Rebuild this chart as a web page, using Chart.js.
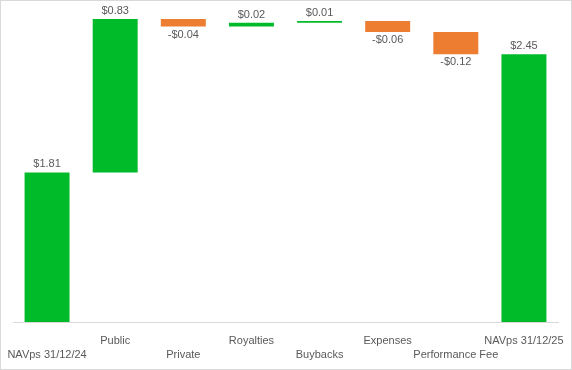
<!DOCTYPE html>
<html>
<head>
<meta charset="utf-8">
<script src="https://cdn.jsdelivr.net/npm/chart.js@4.4.1/dist/chart.umd.min.js"></script>
<style>
    html, body { margin: 0; padding: 0; background: #fff; }
    #wrap {
        width: 572px;
        height: 370px;
        box-sizing: border-box;
        border: 1px solid #d9d9d9;
        position: relative;
    }
    #wrap canvas { display: block; }
</style>
</head>
<body>
<div id="wrap"><canvas id="waterfall" width="570" height="368"></canvas></div>
<script>
// データ定義
const categories = ['NAVps 31/12/24', 'Public', 'Private', 'Royalties', 'Buybacks', 'Expenses', 'Performance Fee', 'NAVps 31/12/25'];
const changes = [1.81, 0.83, -0.04, 0.02, 0.01, -0.06, -0.12, 2.45];
const isTotal = [true, false, false, false, false, false, false, true];
const valueLabels = ['$1.81', '$0.83', '-$0.04', '$0.02', '$0.01', '-$0.06', '-$0.12', '$2.45'];
const yMin = 1.0;
const yMax = 2.7;

const colors = {
    up: '#00bb29',
    down: '#ed7d31',
    axis: '#d9d9d9',
    text: '#595959'
};

// 累積値から浮動バーを作る
const ranges = [];
let running = 0;
changes.forEach((v, i) => {
    if (isTotal[i]) {
        ranges.push([0, v]);
        running = v;
    } else {
        ranges.push([running, running + v]);
        running += v;
    }
});

// ラベルを交互に上下へ
const tickLabels = categories.map((c, i) => i % 2 === 0 ? ['', c] : [c, '']);

const barColors = changes.map(v => v >= 0 ? colors.up : colors.down);

// データラベル描画
const valueLabelPlugin = {
    id: 'valueLabels',
    afterDatasetsDraw(chart) {
        const ctx = chart.ctx;
        const y = chart.scales.y;
        const meta = chart.getDatasetMeta(0);
        ctx.save();
        ctx.font = '11px "Liberation Sans", Arial, sans-serif';
        ctx.fillStyle = colors.text;
        ctx.textAlign = 'center';
        ctx.textBaseline = 'middle';
        meta.data.forEach((bar, i) => {
            const r = ranges[i];
            const top = Math.max(r[0], r[1]);
            const bottom = Math.min(r[0], r[1]);
            if (changes[i] >= 0) {
                ctx.fillText(valueLabels[i], bar.x, y.getPixelForValue(top) - 8);
            } else {
                ctx.fillText(valueLabels[i], bar.x, y.getPixelForValue(bottom) + 8);
            }
        });
        ctx.restore();
    }
};

new Chart(document.getElementById('waterfall').getContext('2d'), {
    type: 'bar',
    data: {
        labels: tickLabels,
        datasets: [{
            data: ranges,
            backgroundColor: barColors,
            borderWidth: 0,
            categoryPercentage: 1,
            barPercentage: 0.66
        }]
    },
    options: {
        responsive: false,
        animation: false,
        layout: {
            padding: { left: 12, right: 13, top: 7, bottom: 0 }
        },
        plugins: {
            legend: { display: false },
            tooltip: { enabled: false }
        },
        scales: {
            x: {
                grid: {
                    display: true,
                    drawOnChartArea: false,
                    drawTicks: false
                },
                border: { display: true, color: colors.axis, width: 1 },
                ticks: {
                    color: colors.text,
                    font: { family: '"Liberation Sans", Arial, sans-serif', size: 11, lineHeight: 1.27 },
                    padding: 12,
                    maxRotation: 0,
                    autoSkip: false
                },
                afterFit(scale) {
                    scale.height = 47;
                    scale.paddingLeft = 0;
                    scale.paddingRight = 0;
                }
            },
            y: {
                display: false,
                min: yMin,
                max: yMax
            }
        }
    },
    plugins: [valueLabelPlugin]
});
</script>
</body>
</html>
